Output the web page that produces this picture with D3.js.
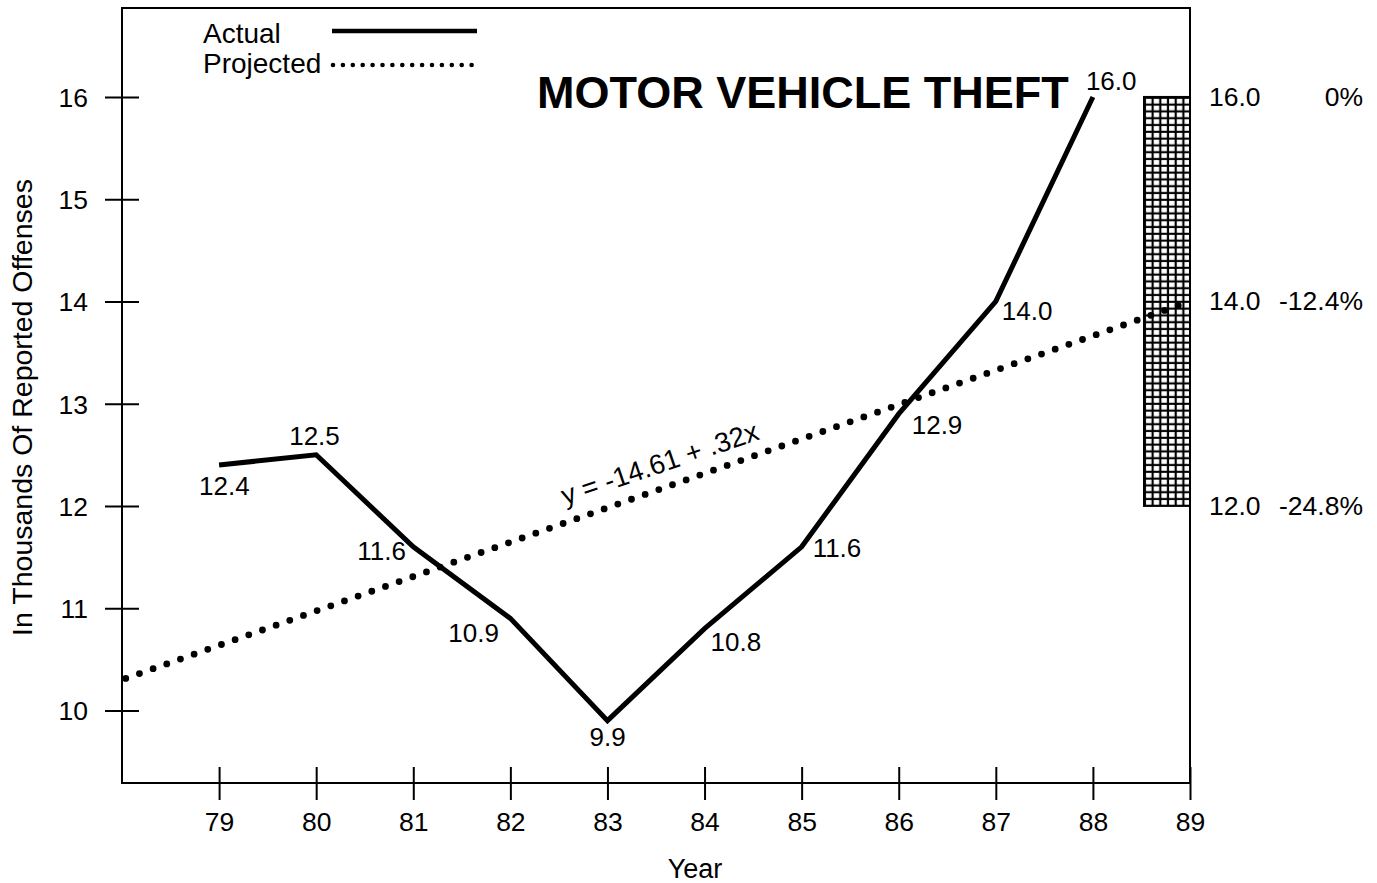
<!DOCTYPE html>
<html>
<head>
<meta charset="utf-8">
<script src="https://cdn.jsdelivr.net/npm/d3@7"></script>
<style>
  html, body { margin: 0; padding: 0; background: #fff; }
  svg { display: block; font-family: "Liberation Sans", Arial, Helvetica, sans-serif; }
</style>
</head>
<body>
<svg id="chart" width="1377" height="883"></svg>
<script>
// Motor vehicle theft, thousands of reported offenses by year
const years = [79, 80, 81, 82, 83, 84, 85, 86, 87, 88];
const actual = [12.4, 12.5, 11.6, 10.9, 9.9, 10.8, 11.6, 12.9, 14.0, 16.0];

// Trend line end points (y = -14.61 + .32x)
const projectedYears = [78, 89];
const projectedValues = [10.3, 14.0];
const equationText = "y = -14.61 + .32x";

// Axis ticks
const xTickLabels = [79, 80, 81, 82, 83, 84, 85, 86, 87, 88, 89];
const yTickLabels = [10, 11, 12, 13, 14, 15, 16];
const xExtent = [78, 89];
const yExtent = [9.29, 16.87];

// Range of outcomes for 89 and the change from 16.0
const bandYear = 89;
const bandValues = [16.0, 14.0, 12.0];
const bandPercents = ["0%", "-12.4%", "-24.8%"];

// Value label placement relative to each point (px)
const labelOffsets = [[-20, 30], [-27, -10], [-56, 13], [-62, 24], [-18, 25],
                      [6, 22], [11, 10], [13, 20], [6, 19], [-7, -7]];

const svg = d3.select("#chart");
const plotLeft = 122, plotRight = 1190, plotTop = 8, plotBottom = 783;

const x = d3.scaleLinear().domain(xExtent).range([plotLeft, plotRight]);
const y = d3.scaleLinear().domain(yExtent).range([plotBottom, plotTop]);

// hatched pattern for the projected range
const defs = svg.append("defs");
const pat = defs.append("pattern")
  .attr("id", "grid")
  .attr("patternUnits", "userSpaceOnUse")
  .attr("width", 7.7).attr("height", 6.8)
  .attr("x", x(bandYear) - 46).attr("y", y(d3.max(bandValues)));
pat.append("rect").attr("width", 7.7).attr("height", 6.8).attr("fill", "#000");
pat.append("rect").attr("x", 2.0).attr("y", 1.9).attr("width", 5.5).attr("height", 4.7)
  .attr("fill", "#fff");

// frame
svg.append("rect")
  .attr("x", plotLeft).attr("y", plotTop)
  .attr("width", plotRight - plotLeft).attr("height", plotBottom - plotTop)
  .attr("fill", "none").attr("stroke", "#000").attr("stroke-width", 2);

// y axis
const yAxis = svg.append("g")
  .attr("transform", `translate(${plotLeft},0)`)
  .call(d3.axisLeft(y).tickValues(yTickLabels).tickFormat(d3.format("d")));
yAxis.select(".domain").remove();
yAxis.selectAll(".tick line").attr("x1", -17).attr("x2", 17)
  .attr("stroke", "#000").attr("stroke-width", 2);
yAxis.selectAll(".tick text").attr("x", -34).attr("dy", "0.36em")
  .attr("font-size", 26.5).attr("fill", "#000")
  .attr("font-family", "'Liberation Sans', Arial, sans-serif");

// x axis
const xAxis = svg.append("g")
  .attr("transform", `translate(0,${plotBottom})`)
  .call(d3.axisBottom(x).tickValues(xTickLabels).tickFormat(d3.format("d")));
xAxis.select(".domain").remove();
xAxis.selectAll(".tick line").attr("y1", -16).attr("y2", 17)
  .attr("stroke", "#000").attr("stroke-width", 2);
xAxis.selectAll(".tick text").attr("y", 48).attr("dy", 0)
  .attr("font-size", 26.5).attr("fill", "#000")
  .attr("font-family", "'Liberation Sans', Arial, sans-serif");

// axis titles
svg.append("text")
  .attr("transform", `translate(32,${(plotTop + plotBottom) / 2 + 12}) rotate(-90)`)
  .attr("text-anchor", "middle").attr("font-size", 28.5)
  .text("In Thousands Of Reported Offenses");
svg.append("text")
  .attr("x", 695).attr("y", 878)
  .attr("text-anchor", "middle").attr("font-size", 27)
  .text("Year");

// hatched range box
const bandTop = y(d3.max(bandValues)), bandBottom = y(d3.min(bandValues));
svg.append("rect")
  .attr("x", x(bandYear) - 46).attr("y", bandTop)
  .attr("width", 46).attr("height", bandBottom - bandTop)
  .attr("fill", "url(#grid)").attr("stroke", "#000").attr("stroke-width", 2);

// range labels on the right
bandValues.forEach((v, i) => {
  svg.append("text")
    .attr("x", 1209).attr("y", y(v) + 9)
    .attr("font-size", 26.5)
    .text(v.toFixed(1));
  svg.append("text")
    .attr("x", 1363).attr("y", y(v) + 9)
    .attr("text-anchor", "end").attr("font-size", 26.5)
    .text(bandPercents[i]);
});

// projected trend (dotted)
const projected = projectedYears.map((yr, i) => [yr, projectedValues[i]]);
const lineGen = d3.line().x(d => x(d[0])).y(d => y(d[1]));
svg.append("path")
  .attr("d", lineGen(projected))
  .attr("fill", "none").attr("stroke", "#000")
  .attr("stroke-width", 6.8).attr("stroke-linecap", "round")
  .attr("stroke-dasharray", "0 14.5").attr("stroke-dashoffset", -4);

// equation along the trend
const p0 = projected[0], p1 = projected[1];
const angle = Math.atan2(y(p1[1]) - y(p0[1]), x(p1[0]) - x(p0[0])) * 180 / Math.PI;
const eqYear = 83.62;
const eqVal = p0[1] + (p1[1] - p0[1]) * (eqYear - p0[0]) / (p1[0] - p0[0]);
svg.append("text")
  .attr("transform", `translate(${x(eqYear)},${y(eqVal)}) rotate(${angle + 0.8})`)
  .attr("y", -15)
  .attr("text-anchor", "middle").attr("font-size", 27.5)
  .text(equationText);

// actual line
const actualPts = years.map((yr, i) => [yr, actual[i]]);
svg.append("path")
  .attr("d", lineGen(actualPts))
  .attr("fill", "none").attr("stroke", "#000")
  .attr("stroke-width", 5).attr("stroke-linejoin", "miter");

// value labels
svg.append("g").selectAll("text")
  .data(actualPts)
  .join("text")
  .attr("x", (d, i) => x(d[0]) + labelOffsets[i][0])
  .attr("y", (d, i) => y(d[1]) + labelOffsets[i][1])
  .attr("font-size", 26)
  .text(d => d[1].toFixed(1));

// title
svg.append("text")
  .attr("x", 537).attr("y", 108)
  .attr("font-size", 45).attr("font-weight", "bold")
  .text("MOTOR VEHICLE THEFT");

// legend
svg.append("text").attr("x", 203).attr("y", 43).attr("font-size", 28).text("Actual");
svg.append("line")
  .attr("x1", 332).attr("x2", 477).attr("y1", 31).attr("y2", 31)
  .attr("stroke", "#000").attr("stroke-width", 4.5);
svg.append("text").attr("x", 203).attr("y", 73).attr("font-size", 28).text("Projected");
svg.append("line")
  .attr("x1", 333).attr("x2", 472).attr("y1", 65).attr("y2", 65)
  .attr("stroke", "#000").attr("stroke-width", 4.6).attr("stroke-linecap", "round")
  .attr("stroke-dasharray", "0 9.9");
</script>
</body>
</html>
